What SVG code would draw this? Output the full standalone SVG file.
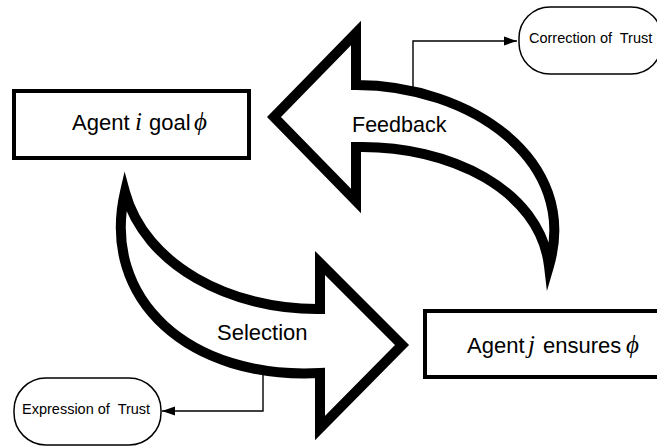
<svg xmlns="http://www.w3.org/2000/svg" width="657" height="446" viewBox="0 0 657 446">
<style>
.box{fill:#fff;stroke:#000;stroke-width:4}
.pill{fill:#fff;stroke:#000;stroke-width:1.5}
.big{fill:#fff;stroke:#000;stroke-width:10;stroke-linejoin:miter;stroke-miterlimit:8}
.conn{fill:none;stroke:#000;stroke-width:1.4}
.sans{font-family:"Liberation Sans",Arial,sans-serif;fill:#000}
.math{font-family:"Liberation Serif","Times New Roman",serif;font-style:italic;fill:#000}
</style>
<defs>
<marker id="ah" markerUnits="userSpaceOnUse" markerWidth="14" markerHeight="10" refX="13" refY="5" orient="auto">
<path d="M0,0.5 L13,5 L0,9.5 Z" fill="#000"/>
</marker>
</defs>
<g id="connectors">
<path class="conn" d="M413,92 V41 H517" marker-end="url(#ah)"/>
<path class="conn" d="M263,370 V411 H162" marker-end="url(#ah)"/>
</g>
<g id="feedback">
<path class="big" d="M274,117 L356,33 L356,85 C470,85 580,160 549,266 C540,190 450,145 356,147 L356,201 Z"/>
<text class="sans" x="352" y="132" font-size="21.5">Feedback</text>
</g>
<g id="selection">
<path class="big" d="M125,192 C145,265 230,310 320,309 L320,263 L402,345 L320,428 L320,373 C190,380 100,300 125,192 Z"/>
<text class="sans" x="217" y="340" font-size="22">Selection</text>
</g>
<g id="agent-i">
<rect class="box" x="14" y="91" width="235" height="67"/>
<text x="72" y="130" font-size="22"><tspan class="sans">Agent</tspan><tspan class="math" x="135" font-size="25">i</tspan><tspan class="sans" x="149">goal</tspan><tspan class="math" x="194" font-size="25">ϕ</tspan></text>
</g>
<g id="agent-j">
<rect class="box" x="425" y="311" width="245" height="66"/>
<text x="467" y="353" font-size="22"><tspan class="sans">Agent</tspan><tspan class="math" x="528" font-size="25">j</tspan><tspan class="sans" x="543">ensures</tspan><tspan class="math" x="626" font-size="25">ϕ</tspan></text>
</g>
<g id="correction">
<rect class="pill" x="519" y="7" width="143" height="67" rx="31" ry="31"/>
<text class="sans" x="529" y="43" font-size="14.5" xml:space="preserve">Correction of  Trust</text>
</g>
<g id="expression">
<rect class="pill" x="14" y="378" width="147" height="67" rx="32" ry="32"/>
<text class="sans" x="22" y="414" font-size="14.5" xml:space="preserve">Expression of  Trust</text>
</g>
</svg>
